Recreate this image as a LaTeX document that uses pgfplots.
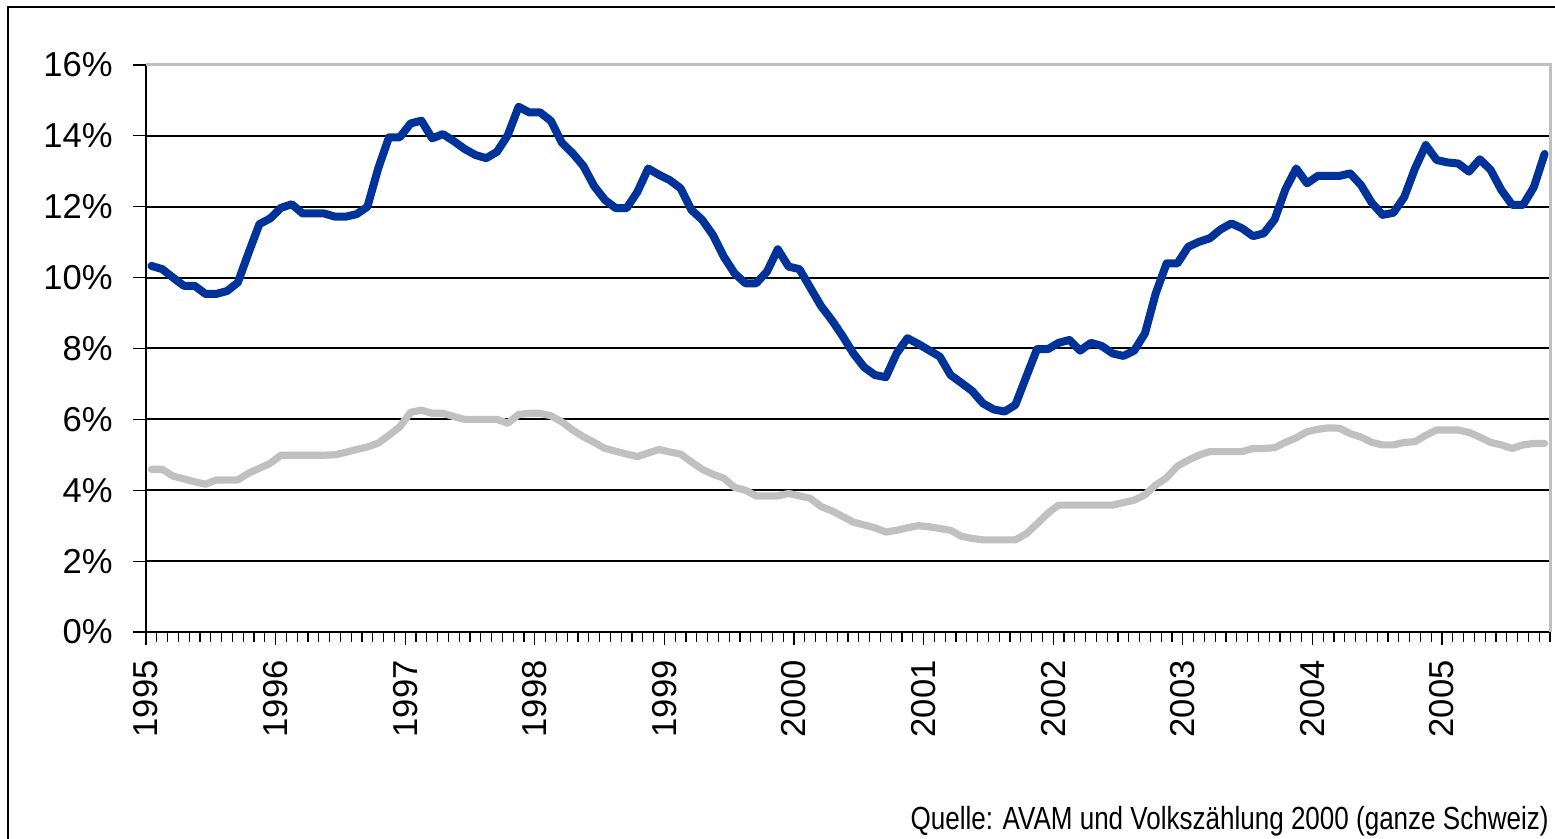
\documentclass[border=0pt]{standalone}
\usepackage{fontspec}
\setmainfont{Liberation Sans}
\usepackage{graphicx}
\usepackage{pgfplots}
\pgfplotsset{compat=1.18}
\definecolor{serblue}{RGB}{0,51,153}
\definecolor{sergray}{RGB}{192,192,192}
\begin{document}
\begin{tikzpicture}
\useasboundingbox (-73pt,-103.5pt) rectangle (704.5pt,316pt);
\draw[black, line width=1pt] (-69pt,-104pt) -- (-69pt,312.5pt) -- (705pt,312.5pt);
\begin{axis}[
  at={(0pt,0pt)}, anchor=south west,
  scale only axis,
  width=702pt, height=283.5pt,
  xmin=-0.5, xmax=129.5,
  ymin=0, ymax=16,
  axis x line*=bottom,
  axis y line*=left,
  axis line style={black, line width=0.7pt},
  tick align=outside,
  major tick length=6.5pt,
  minor tick length=5pt,
  tick style={black, line width=0.6pt},
  xtick={-0.5,11.5,23.5,35.5,47.5,59.5,71.5,83.5,95.5,107.5,119.5},
  xticklabels={1995,1996,1997,1998,1999,2000,2001,2002,2003,2004,2005},
  minor xtick={-0.5,0.5,...,129.5},
  ytick={0,2,...,16},
  yticklabels={0\%,2\%,4\%,6\%,8\%,10\%,12\%,14\%,16\%},
  extra y ticks={2,4,6,8,10,12,14},
  extra y tick labels={},
  extra y tick style={ymajorgrids=true, major tick length=0pt},
  major grid style={black, line width=1pt},
  ticklabel style={font=\fontsize{17.3}{20}\selectfont},
  xticklabel style={rotate=90, anchor=east, inner sep=0pt, xshift=-7.5pt},
  yticklabel style={anchor=east, inner sep=0pt, xshift=-10pt},
  clip=false,
]
\addplot[color=serblue, line width=4pt, line join=round, line cap=round] table {
x y
0 10.33
1 10.24
2 10.0
3 9.77
4 9.77
5 9.54
6 9.54
7 9.62
8 9.86
9 10.7
10 11.51
11 11.67
12 11.97
13 12.07
14 11.81
15 11.81
16 11.81
17 11.72
18 11.72
19 11.79
20 12.0
21 13.08
22 13.96
23 13.96
24 14.35
25 14.43
26 13.93
27 14.05
28 13.85
29 13.63
30 13.46
31 13.37
32 13.55
33 14.02
34 14.82
35 14.66
36 14.66
37 14.42
38 13.81
39 13.51
40 13.15
41 12.58
42 12.19
43 11.96
44 11.96
45 12.42
46 13.08
47 12.9
48 12.75
49 12.52
50 11.91
51 11.63
52 11.2
53 10.59
54 10.12
55 9.84
56 9.84
57 10.17
58 10.8
59 10.31
60 10.24
61 9.72
62 9.2
63 8.8
64 8.35
65 7.86
66 7.47
67 7.25
68 7.19
69 7.86
70 8.29
71 8.13
72 7.95
73 7.77
74 7.25
75 7.03
76 6.8
77 6.45
78 6.28
79 6.22
80 6.41
81 7.2
82 7.98
83 7.98
84 8.16
85 8.24
86 7.94
87 8.16
88 8.07
89 7.86
90 7.79
91 7.94
92 8.43
93 9.56
94 10.4
95 10.4
96 10.87
97 11.01
98 11.11
99 11.36
100 11.53
101 11.39
102 11.17
103 11.25
104 11.64
105 12.49
106 13.08
107 12.66
108 12.87
109 12.87
110 12.87
111 12.94
112 12.61
113 12.11
114 11.77
115 11.83
116 12.27
117 13.08
118 13.74
119 13.32
120 13.25
121 13.22
122 12.99
123 13.34
124 13.04
125 12.47
126 12.05
127 12.05
128 12.55
129 13.49
};
\addplot[color=sergray, line width=3.6pt, line join=round, line cap=round] table {
x y
0 4.59
1 4.59
2 4.40
3 4.32
4 4.24
5 4.17
6 4.29
7 4.29
8 4.29
9 4.48
10 4.62
11 4.76
12 4.99
13 4.99
14 4.99
15 4.99
16 4.99
17 5.0
18 5.07
19 5.15
20 5.22
21 5.33
22 5.55
23 5.79
24 6.2
25 6.26
26 6.17
27 6.17
28 6.08
29 6.0
30 6.0
31 6.0
32 6.0
33 5.89
34 6.14
35 6.17
36 6.17
37 6.1
38 5.93
39 5.7
40 5.51
41 5.35
42 5.18
43 5.1
44 5.02
45 4.95
46 5.05
47 5.15
48 5.08
49 5.02
50 4.8
51 4.59
52 4.45
53 4.34
54 4.08
55 4.0
56 3.84
57 3.84
58 3.84
59 3.91
60 3.84
61 3.77
62 3.54
63 3.42
64 3.26
65 3.1
66 3.02
67 2.94
68 2.82
69 2.87
70 2.94
71 3.0
72 2.97
73 2.92
74 2.87
75 2.7
76 2.64
77 2.6
78 2.6
79 2.6
80 2.6
81 2.77
82 3.05
83 3.35
84 3.58
85 3.58
86 3.58
87 3.58
88 3.58
89 3.58
90 3.65
91 3.72
92 3.87
93 4.15
94 4.35
95 4.68
96 4.85
97 4.99
98 5.09
99 5.09
100 5.09
101 5.09
102 5.18
103 5.18
104 5.2
105 5.35
106 5.48
107 5.65
108 5.72
109 5.76
110 5.75
111 5.6
112 5.5
113 5.35
114 5.28
115 5.28
116 5.35
117 5.37
118 5.55
119 5.7
120 5.7
121 5.7
122 5.63
123 5.5
124 5.35
125 5.28
126 5.18
127 5.28
128 5.32
129 5.32
};
\draw[color=sergray, line width=1.5pt] (rel axis cs:0,1) -- (rel axis cs:1,1) -- (rel axis cs:1,0);
\end{axis}
\node[anchor=base east, inner sep=0pt] at (701.5pt,-99pt)
  {\resizebox{319pt}{\height}{\fontsize{16}{19}\selectfont Quelle: AVAM und Volkszählung 2000 (ganze Schweiz)}};
\end{tikzpicture}
\end{document}
